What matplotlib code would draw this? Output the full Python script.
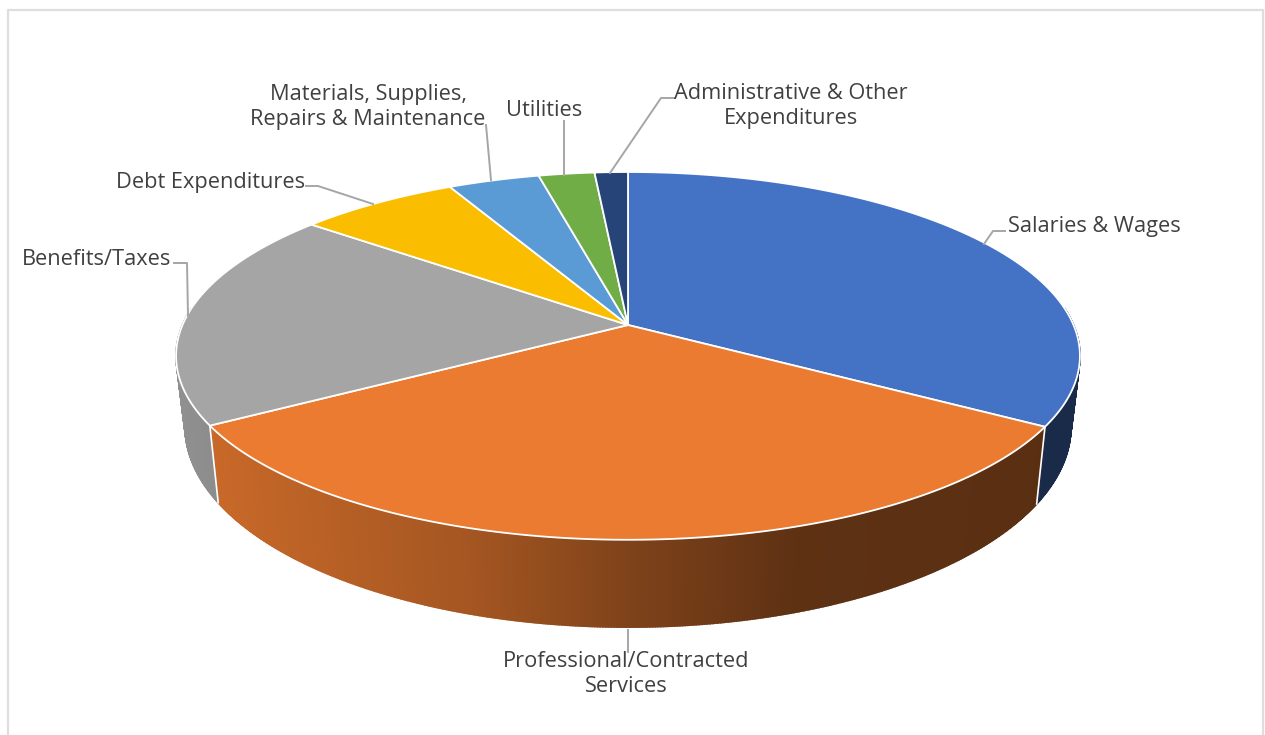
import numpy as np
import matplotlib
matplotlib.use("Agg")
import matplotlib.pyplot as plt

# budget shares, percent, clockwise from 12 o'clock
categories = ["Salaries & Wages", "Professional/Contracted\nServices", "Benefits/Taxes",
              "Debt Expenditures", "Materials, Supplies,\nRepairs & Maintenance", "Utilities",
              "Administrative & Other\nExpenditures"]
shares = [33.7, 32.7, 19.25, 6.75, 3.85, 2.35, 1.4]

colors = ["#4472C4", "#EB7B30", "#A5A5A5", "#FBBD00", "#5B9BD5", "#70AD47", "#264478"]

# label centre and leader line, in pixels
label_pos = [(1094, 226), (626, 674), (97, 259), (211, 182), (368, 107), (544, 110), (791, 106)]
leaders = [
    [(1005, 231), (993, 231), (984, 244)],
    [(628, 630), (628, 652)],
    [(174, 263), (187, 263), (188, 316)],
    [(306, 186), (318, 186), (373, 204)],
    [(486, 125), (491, 180)],
    [(564, 121), (564, 175)],
    [(674, 98), (661, 98), (610, 173)],
]

# perspective disc
cx, cy = 628, 325
rad_x, rad_y, persp = 445.5, 178.7, 0.168
# bottom rim relative to the top rim
bot_x, bot_y, bot_d = 0.98, 1.09, 68


def project(t):
    u, v = np.sin(t), -np.cos(t)
    d = 1 - persp * v
    return rad_x * u / d, rad_y * v / d


def wall_shade(x):
    return np.interp(x, [-450, -160, 0, 170, 420], [0.87, 0.70, 0.54, 0.40, 0.38])


fig = plt.figure(figsize=(12.65, 7.35), dpi=100)
ax = fig.add_axes([0, 0, 1, 1])
ax.set_xlim(0, 1265)
ax.set_ylim(735, 0)
ax.axis("off")

# chart frame, bottom edge runs off the canvas
ax.plot([8, 8, 1263, 1263], [740, 10, 10, 740], color="#DEDEDE", lw=1.6)

edges = np.radians(np.cumsum([0] + shares) * 3.6)

# side wall, drawn as thin strips so the shading can change with x
for i in range(len(shares)):
    ts = np.linspace(edges[i], edges[i + 1], max(int(shares[i] * 12), 3))
    ts = ts[-np.cos(ts) > -0.1]
    if len(ts) < 2:
        continue
    x, y = project(ts)
    xb, yb = x * bot_x, y * bot_y + bot_d
    rgb = np.array(matplotlib.colors.to_rgb(colors[i]))
    for j in range(len(ts) - 1):
        c = rgb * wall_shade((x[j] + x[j + 1]) / 2)
        ax.fill([cx + x[j], cx + x[j + 1], cx + xb[j + 1], cx + xb[j]],
                [cy + y[j], cy + y[j + 1], cy + yb[j + 1], cy + yb[j]],
                facecolor=c, edgecolor=c, lw=1.2, zorder=2)

# white seams where the wall slices meet
for e in edges[1:3]:
    x, y = project(e)
    ax.plot([cx + x, cx + x * bot_x], [cy + y, cy + y * bot_y + bot_d], color="white", lw=1.2, zorder=3)

# top face
for i in range(len(shares)):
    ts = np.linspace(edges[i], edges[i + 1], 200)
    x, y = project(ts)
    ax.fill(np.r_[cx, cx + x], np.r_[cy, cy + y], facecolor=colors[i],
            edgecolor="white", lw=1.3, joinstyle="round", zorder=4)

for name, (lx, ly), pts in zip(categories, label_pos, leaders):
    px, py = zip(*pts)
    ax.plot(px, py, color="#A6A6A6", lw=1.4, zorder=5)
    ax.text(lx, ly, name, ha="center", va="center", fontsize=15.7, family="Open Sans",
            color="#404040", linespacing=1.27, zorder=6)

fig.savefig("out.png", dpi=100)
